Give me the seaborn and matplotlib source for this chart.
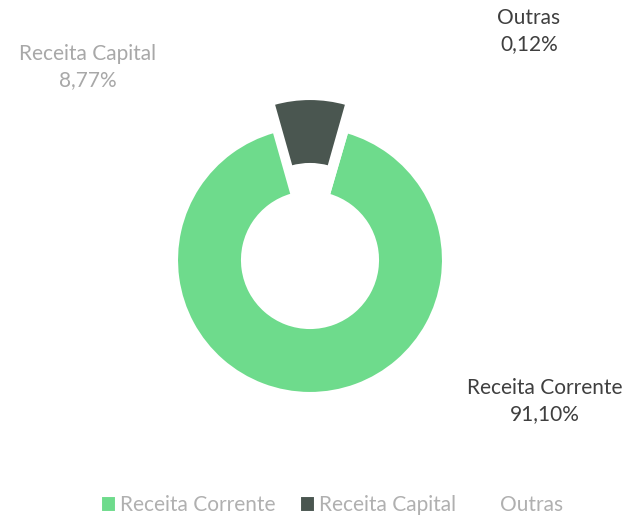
import numpy as np
import seaborn as sns
import matplotlib.pyplot as plt

# Composição da receita
categorias = ['Receita Corrente', 'Receita Capital', 'Outras']
valores = [91.10, 8.77, 0.12]
rotulos = ['91,10%', '8,77%', '0,12%']
cores = ['#6edb8c', '#4a5650', '#ffffff']

sns.set_theme(style="white")
plt.rcParams['font.family'] = ['Lato', 'DejaVu Sans']

fig = plt.figure(figsize=(6.3, 5.2), dpi=100)
ax = fig.add_axes([0, 0, 1, 1])

# girar para a fatia "Receita Capital" ficar centrada no topo
total = sum(valores)
inicio = 90 + 360 * (valores[0] + valores[1] / 2) / total - 360

wedges, _ = ax.pie(
    valores,
    colors=cores,
    center=(310, 260),
    radius=133,
    startangle=inicio,
    counterclock=False,
    explode=[0, 28, 0],
    wedgeprops=dict(width=65, edgecolor='white', linewidth=1.5),
    frame=True,
)
ax.set_xlim(0, 630)
ax.set_ylim(0, 520)
ax.set_aspect('equal')
ax.axis('off')

ax.text(88, 453, categorias[1] + '\n' + rotulos[1], ha='center', va='center',
        fontsize=15, color='#a8a8a8', linespacing=1.35)
ax.text(529, 489, categorias[2] + '\n' + rotulos[2], ha='center', va='center',
        fontsize=15, color='#3f3f3f', linespacing=1.35)
ax.text(545, 119, categorias[0] + '\n' + rotulos[0], ha='center', va='center',
        fontsize=15, color='#3f3f3f', linespacing=1.35)

leg = fig.legend(wedges, categorias, loc='center', bbox_to_anchor=(0.527, 0.028),
                 ncol=3, frameon=False, fontsize=15, handlelength=0.7,
                 handleheight=0.8, handletextpad=0.2, columnspacing=1.2)
for t in leg.get_texts():
    t.set_color('#b0b0b0')

fig.savefig('out.png', dpi=100)
